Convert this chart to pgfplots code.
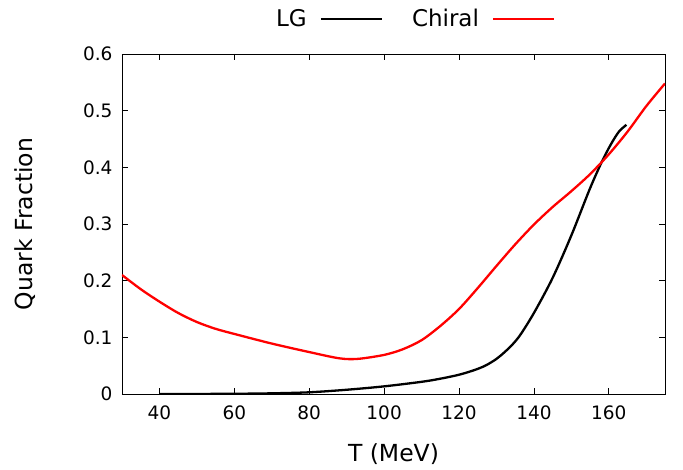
\documentclass[border=0pt]{standalone}
\usepackage{fontspec}
\setmainfont{DejaVu Sans}
\usepackage{pgfplots}
\pgfplotsset{compat=1.18}

\begin{document}
\begin{tikzpicture}
\useasboundingbox (-122pt,-75pt) rectangle (561pt,394pt);
\begin{axis}[
    scale only axis,
    width=543pt,
    height=340pt,
    xmin=30, xmax=175,
    ymin=0, ymax=0.6,
    xtick={40,60,...,160},
    ytick={0,0.1,...,0.6},
    tick align=inside,
    major tick length=6pt,
    axis line style={line width=0.9pt},
    every tick/.style={line width=0.7pt, black},
    tick label style={font=\fontsize{18.5}{22}\selectfont},
    /pgf/number format/assume math mode=true,
    yticklabel style={/pgf/number format/fixed, /pgf/number format/precision=1},
    xticklabel shift=8pt,
    yticklabel shift=6pt,
    label style={font=\fontsize{23.5}{28}\selectfont},
    xlabel={T (MeV)},
    ylabel={Quark Fraction},
    xlabel style={at={(axis description cs:0.5,-0.176)}, anchor=center},
    ylabel style={at={(axis description cs:-0.179,0.5)}, anchor=center},
    legend columns=2,
    legend plot pos=right,
    legend cell align=right,
    legend style={at={(axis description cs:0.539,1.103)}, anchor=center,
        draw=none, fill=none, font=\fontsize{23}{28}\selectfont,
        /tikz/every odd column/.append style={column sep=11pt},
        /tikz/every even column/.append style={column sep=27pt}},
    legend image code/.code={\draw[#1] (0pt,0pt) -- (61pt,0pt);},
]
\addplot[black, line width=2.3pt, smooth] coordinates {
    (40,0.0000) (50,0.0001) (60,0.0004) (70,0.0012) (80,0.0030)
    (90,0.0075) (100,0.0135) (110,0.0215) (115,0.0270) (120,0.0340)
    (124,0.0420) (127,0.0500) (130,0.0620) (133,0.0790) (136,0.1010)
    (140,0.1430) (145,0.2050) (150,0.2800)
    (154.8,0.3600) (158,0.4080) (160.5,0.4400) (162.7,0.4630) (164.7,0.4750)
};
\addlegendentry{LG}
\addplot[red, line width=2.3pt, smooth] coordinates {
    (30,0.210) (35,0.185) (40,0.163) (45,0.143) (50,0.127) (55,0.115)
    (60,0.106) (70,0.089) (80,0.074) (88,0.063) (93,0.062) (100,0.069)
    (105,0.079) (110,0.095) (115,0.120) (120,0.150) (125,0.187)
    (130,0.226) (135,0.264) (140,0.299) (145,0.330) (150,0.358)
    (155,0.388) (160,0.423) (165,0.463) (170,0.508) (175,0.548)
};
\addlegendentry{Chiral}
\end{axis}
\end{tikzpicture}
\end{document}
